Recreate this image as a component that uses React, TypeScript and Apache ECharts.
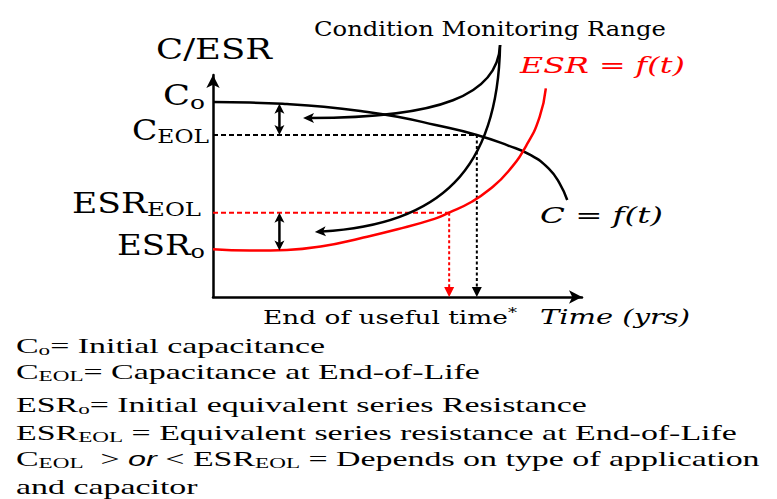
import React, { useEffect, useRef } from 'react';
import * as echarts from 'echarts';

// Capacitance over service life: [time, value]
const capacitanceCurve: [number, number][] = [
  [0, 8.78], [1, 8.76], [2, 8.69], [3, 8.57], [4, 8.38], [5, 8.12], [6, 7.76],
  [7.15, 7.3], [8, 6.82], [8.6, 6.4], [9.1, 5.78], [9.4, 5.1], [9.6, 4.37],
];
// ESR over service life: [time, value]
const esrCurve: [number, number][] = [
  [0, 2.15], [1, 2.09], [2, 2.12], [3, 2.3], [4, 2.65], [5, 3.05], [6, 3.52],
  [6.4, 3.8], [7, 4.28], [7.5, 4.85], [8, 5.65], [8.5, 6.85], [8.85, 8.1], [9.02, 9.4],
];

// End-of-life levels and the times at which they are reached
const C_EOL = 7.3;
const ESR_EOL = 3.8;
const T_EOL_C = 7.15;
const T_EOL_ESR = 6.4;
// Time at which the allowed drift is marked, with the curve values there
const T_DRIFT = 1.8;
const C_AT_DRIFT = 8.71;
const ESR_AT_DRIFT = 2.09;

// Horizontal guides: [tStart, level, tEnd]
const levelGuides: number[][] = [[0, C_EOL, T_EOL_C], [0, ESR_EOL, T_EOL_ESR]];
// Drops from the end-of-life crossing to the time axis: [t, level]
const eolDrops: number[][] = [[T_EOL_C, C_EOL], [T_EOL_ESR, ESR_EOL]];
// Allowed drift ranges: [t, upper, lower]
const driftRanges: number[][] = [[T_DRIFT, C_AT_DRIFT, C_EOL], [T_DRIFT, ESR_EOL, ESR_AT_DRIFT]];
// Condition-monitoring callouts: start, control 1, control 2, tip
const callouts: number[][][] = [
  [[7.78, 11.35], [7.72, 9.1], [6.15, 8.06], [2.44, 8.06]],
  [[7.78, 11.35], [7.72, 5.72], [6.15, 3.24], [2.76, 2.93]],
];

const guideColors = ['#000000', '#ff0000'];
const RED = '#ff0000';
const INK = '#000000';

type Pt = number[];

function head(tip: Pt, from: Pt, len: number, halfW: number, notch: number): Pt[] {
  const dx = tip[0] - from[0];
  const dy = tip[1] - from[1];
  const d = Math.hypot(dx, dy) || 1;
  const ux = dx / d, uy = dy / d;
  const nx = -uy, ny = ux;
  const bx = tip[0] - ux * len, by = tip[1] - uy * len;
  const mx = tip[0] - ux * len * notch, my = tip[1] - uy * len * notch;
  return [tip, [bx + nx * halfW, by + ny * halfW], [mx, my], [bx - nx * halfW, by - ny * halfW]];
}

// ---- text helpers -------------------------------------------------------
interface RunStyle { family: string; size: number; italic?: boolean; role?: 'main' | 'sub' | 'sup'; shift?: number }
interface TextSpec {
  runs: [string, string][];
  styles: Record<string, RunStyle>;
  x: number; baseline: number; align: 'left' | 'right';
  width?: number; scaleX?: number; color?: string;
}

const SERIF_MATH = "'DejaVu Serif', serif";
const SERIF_BODY = "'Liberation Serif', serif";
const SANS_ITALIC = "'Liberation Sans', sans-serif";

let measureCtx: CanvasRenderingContext2D | null = null;
function measure(text: string, st: RunStyle): number {
  if (!measureCtx) measureCtx = document.createElement('canvas').getContext('2d');
  measureCtx!.font = `${st.italic ? 'italic ' : ''}${st.size}px ${st.family}`;
  return measureCtx!.measureText(text).width;
}
function naturalWidth(spec: TextSpec): number {
  return spec.runs.reduce((s, [k, t]) => s + measure(t, spec.styles[k]), 0);
}
function buildText(spec: TextSpec) {
  const main = spec.styles.m;
  const F = main.size;
  const lineH = Math.round(F * 1.15);
  const rich: Record<string, any> = {};
  Object.keys(spec.styles).forEach((k) => {
    const st = spec.styles[k];
    const role = st.role || 'main';
    let lh = lineH;
    let va = 'middle';
    if (role === 'sub') {
      lh = lineH - 2 * (0.345 * (F - st.size) + (st.shift || 0));
      va = 'bottom';
    } else if (role === 'sup') {
      lh = lineH + 2 * (0.345 * (F - st.size) + (st.shift || 0));
      va = 'top';
    }
    rich[k] = {
      fontFamily: st.family,
      fontSize: st.size,
      fontStyle: st.italic ? 'italic' : 'normal',
      fill: spec.color || INK,
      lineHeight: lh,
      verticalAlign: va,
    };
  });
  const sx = spec.scaleX ?? (spec.width ? spec.width / naturalWidth(spec) : 1);
  return {
    type: 'text',
    x: spec.x,
    y: spec.baseline - F * 0.345,
    scaleX: sx,
    silent: true,
    style: {
      text: spec.runs.map(([k, t]) => `{${k}|${t}}`).join(''),
      rich,
      align: spec.align,
      verticalAlign: 'middle',
    },
  };
}

const NB = '\u00A0';
const labelStyles: Record<string, RunStyle> = {
  m: { family: SERIF_MATH, size: 27 },
  s: { family: SERIF_MATH, size: 19, role: 'sub', shift: 6.5 },
};
const legendStyles: Record<string, RunStyle> = {
  m: { family: SERIF_BODY, size: 22 },
  s: { family: SERIF_BODY, size: 15, role: 'sub', shift: 5 },
  i: { family: SANS_ITALIC, size: 21, italic: true },
};

const legendRuns: [string, string][][] = [
  [['m', 'C'], ['s', 'o'], ['m', `=${NB}Initial capacitance`]],
  [['m', 'C'], ['s', 'EOL'], ['m', `=${NB}Capacitance at End-of-Life`]],
  [['m', 'ESR'], ['s', 'o'], ['m', `=${NB}Initial equivalent series Resistance`]],
  [['m', 'ESR'], ['s', 'EOL'], ['m', `${NB}=${NB}Equivalent series resistance at End-of-Life`]],
  [['m', 'C'], ['s', 'EOL'], ['m', `${NB}${NB}>${NB}`], ['i', 'or'], ['m', `${NB}<${NB}ESR`], ['s', 'EOL'], ['m', `${NB}=${NB}Depends on type of application`]],
  [['m', 'and capacitor']],
];
const legendBaselines = [353, 379, 412, 440, 466, 494];

function buildGraphics() {
  const items: any[] = [];
  const labels: TextSpec[] = [
    { runs: [['m', 'C/ESR']], styles: labelStyles, x: 156, baseline: 59, align: 'left', width: 116 },
    { runs: [['m', 'C'], ['s', 'o']], styles: labelStyles, x: 205, baseline: 105, align: 'right', width: 42 },
    { runs: [['m', 'C'], ['s', 'EOL']], styles: labelStyles, x: 209, baseline: 140, align: 'right', width: 77 },
    { runs: [['m', 'ESR'], ['s', 'EOL']], styles: labelStyles, x: 201, baseline: 213, align: 'right', width: 129 },
    { runs: [['m', 'ESR'], ['s', 'o']], styles: labelStyles, x: 205, baseline: 255, align: 'right', width: 88 },
    {
      runs: [['m', 'Condition Monitoring Range']],
      styles: { m: { family: SERIF_MATH, size: 21 } },
      x: 314, baseline: 36, align: 'left', width: 352,
    },
    {
      runs: [['m', 'ESR = f(t)']],
      styles: { m: { family: SERIF_MATH, size: 23, italic: true } },
      x: 520, baseline: 73, align: 'left', width: 165, color: RED,
    },
    {
      runs: [['m', 'C = f(t)']],
      styles: { m: { family: SERIF_MATH, size: 23, italic: true } },
      x: 540, baseline: 223, align: 'left', width: 123,
    },
    {
      runs: [['m', 'End of useful time'], ['a', '*']],
      styles: {
        m: { family: SERIF_MATH, size: 19 },
        a: { family: SERIF_MATH, size: 13, role: 'sup', shift: -3 },
      },
      x: 263, baseline: 324, align: 'left', width: 254,
    },
    {
      runs: [['m', 'Time (yrs)']],
      styles: { m: { family: SERIF_MATH, size: 20, italic: true } },
      x: 540, baseline: 324, align: 'left', width: 150,
    },
  ];
  labels.forEach((l) => items.push(buildText(l)));

  const legendScale = 721 / naturalWidth({ runs: legendRuns[3], styles: legendStyles, x: 0, baseline: 0, align: 'left' });
  legendRuns.forEach((runs, i) => {
    items.push(buildText({ runs, styles: legendStyles, x: 16, baseline: legendBaselines[i], align: 'left', scaleX: legendScale }));
  });
  return items;
}

function buildOption(): echarts.EChartsCoreOption {
  const axisCommon = {
    type: 'value',
    min: 0,
    max: 10,
    axisLine: {
      show: true,
      onZero: false,
      symbol: ['none', 'arrow'],
      symbolSize: [10, 13],
      lineStyle: { color: INK, width: 2.5 },
    },
    axisTick: { show: false },
    axisLabel: { show: false },
    splitLine: { show: false },
  };

  return {
    animation: false,
    grid: { left: 213, top: 75, right: 195, bottom: 202 },
    xAxis: { ...axisCommon },
    yAxis: { ...axisCommon },
    series: [
      {
        type: 'line', name: 'C', data: capacitanceCurve, smooth: true,
        symbol: 'none', silent: true, lineStyle: { color: INK, width: 2.5 }, z: 3,
      },
      {
        type: 'line', name: 'ESR', data: esrCurve, smooth: true,
        symbol: 'none', silent: true, lineStyle: { color: RED, width: 2.5 }, z: 3,
      },
      {
        type: 'custom', name: 'levels', data: levelGuides, clip: false, silent: true, z: 2,
        renderItem: (params: any, api: any) => {
          const p0 = api.coord([api.value(0), api.value(1)]);
          const p1 = api.coord([api.value(2), api.value(1)]);
          return {
            type: 'line',
            shape: { x1: p0[0], y1: p0[1], x2: p1[0], y2: p1[1] },
            style: { stroke: guideColors[params.dataIndex], lineWidth: 2, lineDash: [5, 3] },
          };
        },
      },
      {
        type: 'custom', name: 'drops', data: eolDrops, clip: false, silent: true, z: 2,
        renderItem: (params: any, api: any) => {
          const top = api.coord([api.value(0), api.value(1)]);
          const tip = api.coord([api.value(0), 0]);
          const color = guideColors[params.dataIndex];
          return {
            type: 'group',
            children: [
              {
                type: 'line',
                shape: { x1: top[0], y1: top[1], x2: tip[0], y2: tip[1] - 8 },
                style: { stroke: color, lineWidth: 2, lineDash: [3, 2.5] },
              },
              { type: 'polygon', shape: { points: head(tip, top, 10, 5, 1) }, style: { fill: color } },
            ],
          };
        },
      },
      {
        type: 'custom', name: 'drift', data: driftRanges, clip: false, silent: true, z: 4,
        renderItem: (params: any, api: any) => {
          const a = api.coord([api.value(0), api.value(1)]);
          const b = api.coord([api.value(0), api.value(2)]);
          return {
            type: 'group',
            children: [
              {
                type: 'line',
                shape: { x1: a[0], y1: a[1] + 5, x2: b[0], y2: b[1] - 5 },
                style: { stroke: INK, lineWidth: 2.5 },
              },
              { type: 'polygon', shape: { points: head(a, b, 10, 5, 0.75) }, style: { fill: INK } },
              { type: 'polygon', shape: { points: head(b, a, 10, 5, 0.75) }, style: { fill: INK } },
            ],
          };
        },
      },
      {
        type: 'custom', name: 'monitoring', data: callouts.map((c) => c[3]), clip: false, silent: true, z: 5,
        renderItem: (params: any, api: any) => {
          const [p0, c1, c2, tip] = callouts[params.dataIndex].map((p) => api.coord(p));
          const dx = tip[0] - c2[0], dy = tip[1] - c2[1];
          const d = Math.hypot(dx, dy) || 1;
          const end = [tip[0] - (dx / d) * 7, tip[1] - (dy / d) * 7];
          return {
            type: 'group',
            children: [
              {
                type: 'bezierCurve',
                shape: {
                  x1: p0[0], y1: p0[1], cpx1: c1[0], cpy1: c1[1],
                  cpx2: c2[0], cpy2: c2[1], x2: end[0], y2: end[1],
                },
                style: { stroke: INK, lineWidth: 2.5, fill: 'none' },
              },
              { type: 'polygon', shape: { points: head(tip, c2, 11, 5, 0.75) }, style: { fill: INK } },
            ],
          };
        },
      },
    ],
    graphic: buildGraphics(),
  };
}

export default function App() {
  const ref = useRef<HTMLDivElement>(null);
  useEffect(() => {
    if (!ref.current) return;
    const chart = echarts.init(ref.current, null, { renderer: 'svg' });
    chart.setOption(buildOption());
    return () => chart.dispose();
  }, []);
  return (
    <div
      ref={ref}
      style={{ position: 'fixed', left: 0, top: 0, width: 777, height: 499, background: '#ffffff' }}
    />
  );
}
